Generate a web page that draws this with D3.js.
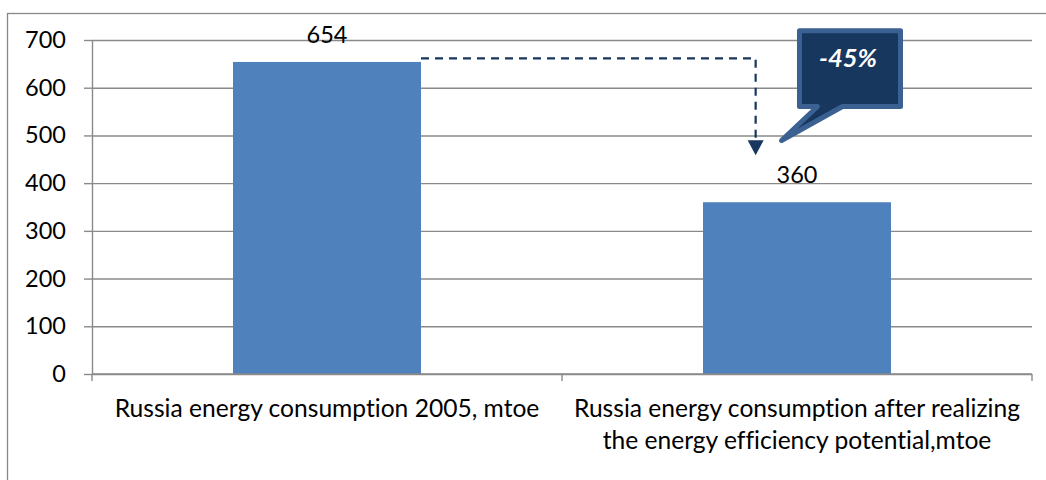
<!DOCTYPE html>
<html>
<head>
<meta charset="utf-8">
<script src="https://cdn.jsdelivr.net/npm/d3@7"></script>
<style>
  html, body { margin: 0; padding: 0; background: #fff; }
  svg { display: block; }
  text { font-family: Lato, "Open Sans", sans-serif; fill: #000; font-variant-ligatures: none; font-feature-settings: "liga" 0, "dlig" 0; }
</style>
</head>
<body>
<svg id="chart" width="1046" height="480"></svg>
<script>
// ---- data ----
const categories = ["Russia energy consumption 2005, mtoe",
  "Russia energy consumption after realizing the energy efficiency potential,mtoe"];
const categoryLines = [
  ["Russia energy consumption 2005, mtoe"],
  ["Russia energy consumption after realizing", "the energy efficiency potential,mtoe"]
];
const values = [654, 360];
const yTickValues = [0, 100, 200, 300, 400, 500, 600, 700];
const changeLabel = "-45%";

// ---- layout ----
const W = 1046, H = 480;
const plot = { left: 92, right: 1032, top: 40, bottom: 374 };
const numFont = 23.5;
const catFont = 24.6;
const svg = d3.select("#chart");

const x = d3.scaleBand().domain(categories)
  .range([plot.left, plot.right]).paddingInner(0.6).paddingOuter(0.3);
const y = d3.scaleLinear().domain([0, 700]).range([plot.bottom, plot.top]);

// outer chart border
svg.append("rect")
  .attr("x", 7.5).attr("y", 13.5).attr("width", W).attr("height", H)
  .attr("fill", "none").attr("stroke", "#888").attr("stroke-width", 1.3);

// gridlines
svg.append("g").attr("transform", `translate(${plot.left},0)`)
  .call(d3.axisLeft(y).tickValues(yTickValues).tickSize(-(plot.right - plot.left)).tickFormat(""))
  .call(g => g.select(".domain").remove())
  .call(g => g.selectAll("line").attr("stroke", "#8a8a8a").attr("stroke-width", 1.4));

// y axis (line, outer tick marks, labels)
svg.append("g").attr("transform", `translate(${plot.left},0)`)
  .call(d3.axisLeft(y).tickValues(yTickValues).tickSize(8).tickSizeOuter(0).tickPadding(18))
  .call(g => g.select(".domain").attr("stroke", "#8a8a8a").attr("stroke-width", 1.4))
  .call(g => g.selectAll("line").attr("stroke", "#8a8a8a").attr("stroke-width", 1.4))
  .call(g => g.selectAll("text").attr("font-size", numFont).attr("font-family", "Lato, 'Open Sans', sans-serif").attr("fill", "#000"));

// bars
svg.append("g").selectAll("rect").data(values).join("rect")
  .attr("x", (d, i) => x(categories[i]))
  .attr("y", d => y(d))
  .attr("width", x.bandwidth())
  .attr("height", d => y(0) - y(d))
  .attr("fill", "#4F81BD");

// x axis line and ticks at category boundaries
const gap = (x.step() - x.bandwidth()) / 2;
const boundaries = categories.map(c => x(c) - gap).concat([x(categories[categories.length - 1]) + x.bandwidth() + gap]);
svg.append("line")
  .attr("x1", plot.left).attr("x2", plot.right)
  .attr("y1", y(0)).attr("y2", y(0))
  .attr("stroke", "#8a8a8a").attr("stroke-width", 1.4);
svg.append("g").selectAll("line").data(boundaries).join("line")
  .attr("x1", d => d).attr("x2", d => d)
  .attr("y1", y(0)).attr("y2", y(0) + 7)
  .attr("stroke", "#8a8a8a").attr("stroke-width", 1.4);

// category labels
svg.append("g").selectAll("text").data(categoryLines).join("text")
  .attr("text-anchor", "middle")
  .attr("font-size", catFont)
  .each(function (lines, i) {
    const cx = x(categories[i]) + x.bandwidth() / 2;
    d3.select(this).selectAll("tspan").data(lines).join("tspan")
      .attr("x", cx)
      .attr("y", (d, j) => y(0) + 43 + j * 32)
      .text(d => d);
  });

// value labels
svg.append("g").selectAll("text").data(values).join("text")
  .attr("text-anchor", "middle")
  .attr("font-size", numFont)
  .attr("x", (d, i) => x(categories[i]) + x.bandwidth() / 2)
  .attr("y", d => y(d) - 19)
  .text(d => d);

// dashed arrow from bar 1 top to bar 2
const ax = x(categories[1]) + x.bandwidth() * 0.28;
const ay0 = y(values[0]) - 3.5;
const tipY = y(values[1]) - 47;
svg.append("path")
  .attr("d", `M${x(categories[0]) + x.bandwidth()},${ay0} H${ax} V${tipY - 14}`)
  .attr("fill", "none").attr("stroke", "#17375E").attr("stroke-width", 2.2)
  .attr("stroke-dasharray", "8,6");
svg.append("path")
  .attr("d", `M${ax - 8},${tipY - 15} L${ax + 8},${tipY - 15} L${ax},${tipY} Z`)
  .attr("fill", "#17375E");

// callout
const bx0 = x(categories[1]) + x.bandwidth() / 2 + 2.5;
const bx1 = bx0 + 101;
const by0 = 30.8, by1 = 106.5;
svg.append("path")
  .attr("d", `M${bx0},${by0} H${bx1} V${by1} H${bx0 + 43} L${bx0 - 18},${by1 + 34} L${bx0 + 18},${by1} H${bx0} Z`)
  .attr("fill", "#17375E").attr("stroke", "#3A6192").attr("stroke-width", 5)
  .attr("stroke-linejoin", "round");
svg.append("text")
  .attr("x", (bx0 + bx1) / 2 - 2).attr("y", 67)
  .attr("text-anchor", "middle")
  .attr("font-size", 25.5).attr("font-weight", "bold").attr("font-style", "italic")
  .style("fill", "#fff")
  .text(changeLabel);
</script>
</body>
</html>
